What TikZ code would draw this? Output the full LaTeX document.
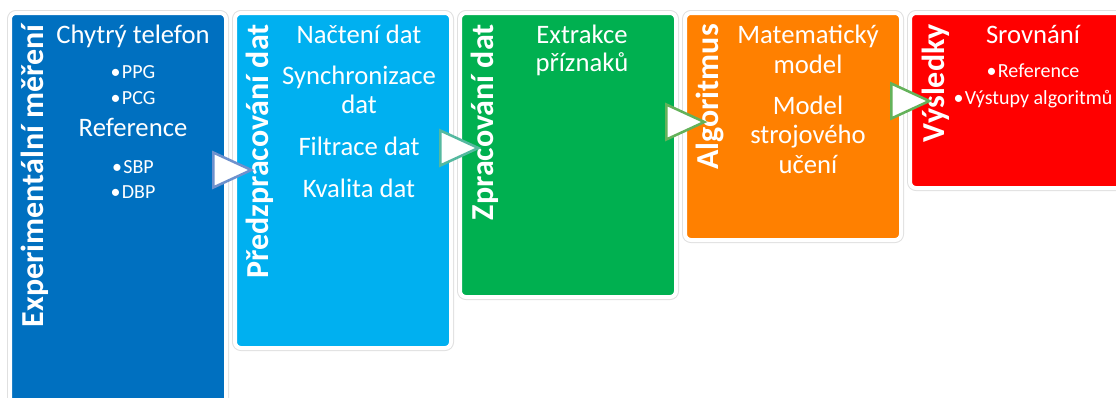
\documentclass[tikz,border=0pt]{standalone}
\usepackage{fontspec}
\setmainfont{Carlito}
\usetikzlibrary{positioning}
\usetikzlibrary{calc}
\usetikzlibrary{shapes.geometric}
\definecolor{expblue}{RGB}{0,112,192}
\definecolor{preblue}{RGB}{0,176,240}
\definecolor{procgreen}{RGB}{0,176,80}
\definecolor{algorange}{RGB}{255,128,0}
\definecolor{resred}{RGB}{255,0,0}
\definecolor{arrA}{RGB}{110,145,205}
\definecolor{arrB}{RGB}{85,185,160}
\definecolor{arrC}{RGB}{100,178,90}
\tikzset{node distance=6.75pt,
    stage/.style={
        rectangle,
        rounded corners=4.5pt,
        minimum width=162pt,
        outer sep=0pt,
        draw=white, line width=3pt,
        preaction={draw=black!12, line width=4.5pt}},
    title/.style={
        text=white,
        font=\fontsize{24}{28}\selectfont\bfseries,
        inner sep=0pt,
        rotate=90,
        anchor=base east},
    item/.style={
        text=white,
        font=\fontsize{20}{24}\selectfont,
        inner sep=0pt,
        anchor=base},
    point/.style={
        item,
        font=\fontsize{15}{18}\selectfont},
    chevron/.style={
        isosceles triangle,
        isosceles triangle stretches,
        minimum width=26.25pt,
        minimum height=28.5pt,
        inner sep=0pt,
        fill=white,
        line width=1.9pt}}

\begin{document}
\begin{tikzpicture}[x=0.75pt, y=-0.75pt]
        \useasboundingbox (0,0) rectangle (1116,397);
        \clip (0,0) rectangle (1116,397);
        % stages
        \node[stage, fill=expblue, minimum height=305pt, anchor=north west] (exp) at (10,13) {};
        \node[stage, fill=preblue, minimum height=251.25pt, right=of exp.north east, anchor=north west] (pre) {};
        \node[stage, fill=procgreen, minimum height=213pt, right=of pre.north east, anchor=north west] (proc) {};
        \node[stage, fill=algorange, minimum height=170.25pt, right=of proc.north east, anchor=north west] (alg) {};
        \node[stage, fill=resred, minimum height=131.25pt, right=of alg.north east, anchor=north west] (res) {};

        % titles
        \node[title] (exp-t) at ($(exp.north west)+(33,11)$) {Experimentální měření};
        \node[title] (pre-t) at ($(pre.north west)+(33,11)$) {Předzpracování dat};
        \node[title] (proc-t) at ($(proc.north west)+(33,11)$) {Zpracování dat};
        \node[title] (alg-t) at ($(alg.north west)+(33,11)$) {Algoritmus};
        \node[title] (res-t) at ($(res.north west)+(34,11)$) {Výsledky};

        % contents
        \node[item] (exp-1) at ($(exp.north)+(15,30)$) {Chytrý telefon};
        \node[point] (exp-2) at ($(exp.north)+(15,65)$) {•\kern1pt PPG};
        \node[point] (exp-3) at ($(exp.north)+(15,91)$) {•\kern1pt PCG};
        \node[item] (exp-4) at ($(exp.north)+(15,123)$) {Reference};
        \node[point] (exp-5) at ($(exp.north)+(15,160)$) {•\kern1pt SBP};
        \node[point] (exp-6) at ($(exp.north)+(15,185)$) {•\kern1pt DBP};

        \node[item] (pre-1) at ($(pre.north)+(16,30)$) {Načtení dat};
        \node[item] (pre-2) at ($(pre.north)+(16,71)$) {Synchronizace};
        \node[item] (pre-3) at ($(pre.north)+(16,100)$) {dat};
        \node[item] (pre-4) at ($(pre.north)+(16,142)$) {Filtrace dat};
        \node[item] (pre-5) at ($(pre.north)+(16,184)$) {Kvalita dat};

        \node[item] (proc-1) at ($(proc.north)+(14,30)$) {Extrakce};
        \node[item] (proc-2) at ($(proc.north)+(14,58)$) {příznaků};

        \node[item] (alg-1) at ($(alg.north)+(15,30)$) {Matematický};
        \node[item] (alg-2) at ($(alg.north)+(15,60)$) {model};
        \node[item] (alg-3) at ($(alg.north)+(15,101)$) {Model};
        \node[item] (alg-4) at ($(alg.north)+(15,130)$) {strojového};
        \node[item] (alg-5) at ($(alg.north)+(15,160)$) {učení};

        \node[item] (res-1) at ($(res.north)+(15,30)$) {Srovnání};
        \node[point] (res-2) at ($(res.north)+(15,64)$) {•\kern1pt Reference};
        \node[point] (res-3) at ($(res.north)+(15,91)$) {•\kern1pt Výstupy algoritmů};

        % chevrons between the stages
        \node[chevron, draw=arrA] (go1) at ($(exp.north east)!.5!(pre.north west)+(-6,157)$) {};
        \node[chevron, draw=arrB] (go2) at ($(pre.north east)!.5!(proc.north west)+(-4,135)$) {};
        \node[chevron, draw=arrC] (go3) at ($(proc.north east)!.5!(alg.north west)+(-3,109)$) {};
        \node[chevron, draw=arrC] (go4) at ($(alg.north east)!.5!(res.north west)+(-3,88)$) {};
    \end{tikzpicture}
\end{document}
